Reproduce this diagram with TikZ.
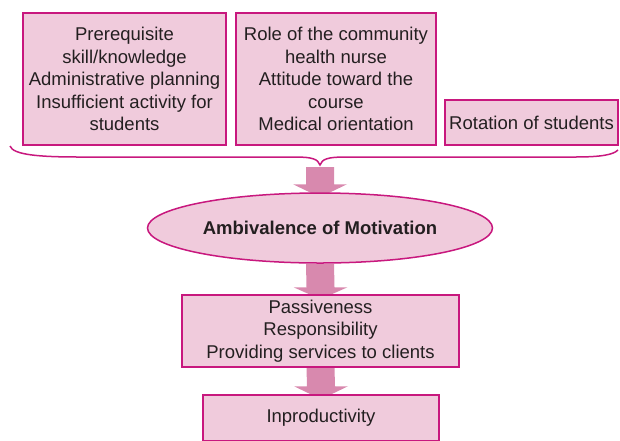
\documentclass[tikz,border=0pt]{standalone}
\usepackage{fontspec}
\setmainfont{Liberation Sans}
\usetikzlibrary{shapes.geometric,backgrounds,calc}
\definecolor{bord}{HTML}{C8187E}
\definecolor{fillp}{HTML}{F0CBDC}
\definecolor{arr}{HTML}{D889AE}
\definecolor{txt}{HTML}{231F20}
\begin{document}
\begin{tikzpicture}[x=1pt,y=-1pt,
  box/.style={draw=bord,fill=fillp,line width=1.5pt,rectangle,align=center,inner sep=0pt,text=txt,font=\fontsize{18.5}{22.5}\selectfont},
  ell/.style={draw=bord,fill=fillp,line width=1.5pt,ellipse,inner sep=0pt,text=txt,font=\fontsize{18.5}{22.5}\selectfont\bfseries},
  bracepath/.style={draw=bord,line width=1.5pt},
  blockarrow/.style={fill=arr,draw=none}]
\clip (0,0) rectangle (620,440);
\node[box,minimum width=203pt,minimum height=132pt] (b1) at (124.5,79) {Prerequisite\\skill/knowledge\\Administrative planning\\Insufficient activity for\\students};
\node[box,minimum width=200pt,minimum height=132pt] (b2) at (336,79) {Role of the community\\health nurse\\Attitude toward the\\course\\Medical orientation};
\node[box,minimum width=173pt,minimum height=45pt] (b3) at (531.5,122.5) {Rotation of students};
\coordinate (bl) at (10,146);
\coordinate (bt) at (320,165);
\coordinate (br) at (618,150);
\draw[bracepath] (bl) .. controls (13,155) and (40,157) .. (80,157) -- (295,157) .. controls (312,157) and (318,159) .. (bt) .. controls (322,159) and (328,157) .. (345,157) -- (575,157) .. controls (600,157) and (613,155) .. (br);
\node[ell,minimum width=345pt,minimum height=70pt] (e) at (320,228) {Ambivalence of Motivation};
\node[box,minimum width=277pt,minimum height=72pt] (b4) at (320.5,331) {Passiveness\\Responsibility\\Providing services to clients};
\node[box,minimum width=236pt,minimum height=46pt] (b5) at (321,418) {Inproductivity};
\begin{scope}[on background layer]
\fill[blockarrow] ($(bt)+(-14,2)$) -- ($(bt)+(14,2)$) -- ($(e.north)+(14,-8)$) -- ($(e.north)+(27,-8)$) -- ($(e.north)+(0,5)$) -- ($(e.north)+(-27,-8)$) -- ($(e.north)+(-14,-8)$) -- cycle;
\fill[blockarrow] ($(e.south)+(-14,0)$) -- ($(e.south)+(14,0)$) -- ($(b4.north)+(14,-7)$) -- ($(b4.north)+(27,-7)$) -- ($(b4.north)+(0,5)$) -- ($(b4.north)+(-27,-7)$) -- ($(b4.north)+(-14,-7)$) -- cycle;
\fill[blockarrow] ($(b4.south)+(-14,0)$) -- ($(b4.south)+(14,0)$) -- ($(b5.north)+(14,-8)$) -- ($(b5.north)+(27,-8)$) -- ($(b5.north)+(0,5)$) -- ($(b5.north)+(-27,-8)$) -- ($(b5.north)+(-14,-8)$) -- cycle;
\end{scope}
\end{tikzpicture}
\end{document}
